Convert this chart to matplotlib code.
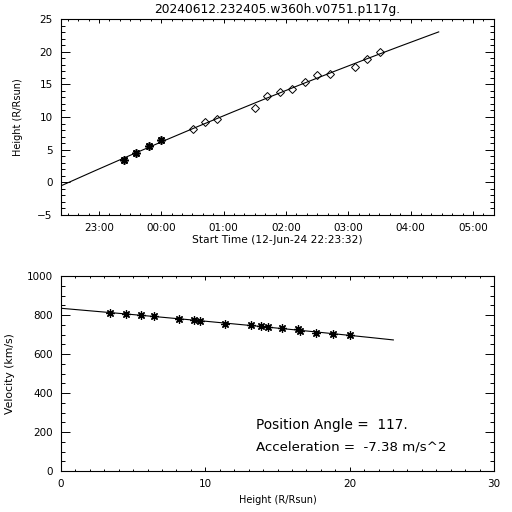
import numpy as np
import matplotlib
matplotlib.use("Agg")
import matplotlib.pyplot as plt
from matplotlib.ticker import MultipleLocator, FixedLocator

# ---------------- data ----------------
title = "20240612.232405.w360h.v0751.p117g."
start_label = "Start Time (12-Jun-24 22:23:32)"
start_time = "22:23:32"
# observation times (C2 = asterisks, C3 = diamonds)
c2_times = ["23:24:05", "23:36:05", "23:48:05", "00:00:05"]
c3_times = ["00:30:05", "00:42:05", "00:54:05", "01:30:05", "01:42:05",
            "01:54:05", "02:06:05", "02:18:05", "02:30:05", "02:42:05",
            "03:06:05", "03:18:05", "03:30:05"]
c2_heights = [3.42, 4.53, 5.54, 6.47]
c3_heights = [8.20, 9.24, 9.66, 11.39, 13.19, 13.86, 14.35, 15.34, 16.40,
              16.59, 17.65, 18.85, 20.00]
velocities = [810, 805, 800, 796, 779, 774, 769, 752, 749, 744, 740, 732,
              727, 718, 709, 702, 697]
time_tick_labels = ["23:00", "00:00", "01:00", "02:00", "03:00", "04:00", "05:00"]
fit_end_time = "04:27:00"
time_axis_seconds = 25000
position_angle = "117."
acceleration = "-7.38"


def to_sec(s):
    parts = [int(p) for p in s.split(":")]
    while len(parts) < 3:
        parts.append(0)
    return parts[0] * 3600 + parts[1] * 60 + parts[2]


t0 = to_sec(start_time)


def rel(s):
    d = to_sec(s) - t0
    if d < 0:
        d += 86400
    return d


t_c2 = np.array([rel(s) for s in c2_times], float)
t_c3 = np.array([rel(s) for s in c3_times], float)
t_all = np.concatenate([t_c2, t_c3])
h_all = np.array(c2_heights + c3_heights, float)
v_all = np.array(velocities, float)

# fits
pcoef = np.polyfit(t_all, h_all, 2)
t_fit = np.linspace(0, rel(fit_end_time), 200)
h_fit = np.polyval(pcoef, t_fit)
vcoef = np.polyfit(h_all, v_all ** 2, 1)
hv_fit = np.linspace(0, h_fit[-1], 200)
v_fit = np.sqrt(np.polyval(vcoef, hv_fit))

# ---------------- figure ----------------
plt.rcParams['font.family'] = ['DejaVu Sans']
fig = plt.figure(figsize=(5.12, 5.12), dpi=100)
fig.patch.set_facecolor('white')

ax1 = fig.add_axes([61 / 512, 1 - 215 / 512, 433 / 512, 196 / 512])
ax2 = fig.add_axes([61 / 512, 1 - 471 / 512, 433 / 512, 195 / 512])

fs_tick = 7.5
for ax in (ax1, ax2):
    ax.tick_params(which='both', direction='in', top=True, right=True,
                   labelsize=fs_tick, width=0.7, pad=6)
    ax.tick_params(axis='x', which='major', length=2.8)
    ax.tick_params(axis='x', which='minor', length=1.4)
    ax.tick_params(axis='y', which='major', length=6.2)
    ax.tick_params(axis='y', which='minor', length=3.1)
    for sp in ax.spines.values():
        sp.set_linewidth(0.8)

# top panel
ax1.plot(t_fit, h_fit, color='black', lw=0.8)
ax1.plot(t_c2, c2_heights, linestyle='none', marker=(8, 2, 0), ms=6,
         mew=1.2, color='black')
ax1.plot(t_c3, c3_heights, linestyle='none', marker='D', ms=4.2,
         mfc='none', mec='black', mew=0.7)
ax1.set_xlim(0, time_axis_seconds)
ax1.set_ylim(-5, 25)
tick_pos = []
for lab in time_tick_labels:
    tick_pos.append(rel(lab + ":00"))
ax1.xaxis.set_major_locator(FixedLocator(tick_pos))
ax1.set_xticklabels(time_tick_labels)
minor_pos = [p + k * 600 - 3600 for p in tick_pos for k in range(6)]
minor_pos = [p for p in minor_pos if 0 <= p <= time_axis_seconds]
minor_pos += [tick_pos[-1] + k * 600 for k in range(1, 6)]
ax1.xaxis.set_minor_locator(FixedLocator(minor_pos))
ax1.yaxis.set_minor_locator(MultipleLocator(1))
ax1.set_yticks([-5, 0, 5, 10, 15, 20, 25])
ax1.set_yticklabels(['\u22125', '0', '5', '10', '15', '20', '25'])
ax1.set_xlabel(start_label, fontsize=7.7, labelpad=1)
ax1.set_ylabel("Height (R/Rsun)", fontsize=7, labelpad=10)
ax1.set_title(title, fontsize=8.8, pad=4)

# bottom panel
ax2.plot(hv_fit, v_fit, color='black', lw=0.8)
ax2.plot(h_all, v_all, linestyle='none', marker=(8, 2, 0), ms=6,
         mew=0.9, color='black')
ax2.set_xlim(0, 30)
ax2.set_ylim(0, 1000)
ax2.xaxis.set_major_locator(MultipleLocator(10))
ax2.xaxis.set_minor_locator(MultipleLocator(1))
ax2.yaxis.set_major_locator(MultipleLocator(200))
ax2.yaxis.set_minor_locator(MultipleLocator(50))
ax2.set_xlabel("Height (R/Rsun)", fontsize=7, labelpad=4)
ax2.set_ylabel("Velocity (km/s)", fontsize=7.8, labelpad=8)
ax2.text(13.5, 236, "Position Angle =  " + position_angle, fontsize=9.8,
         va='center', ha='left')
ax2.text(13.5, 123, "Acceleration =  " + acceleration + " m/s^2",
         fontsize=9.6, va='center', ha='left')

fig.savefig("out.png", dpi=100, facecolor='white')
